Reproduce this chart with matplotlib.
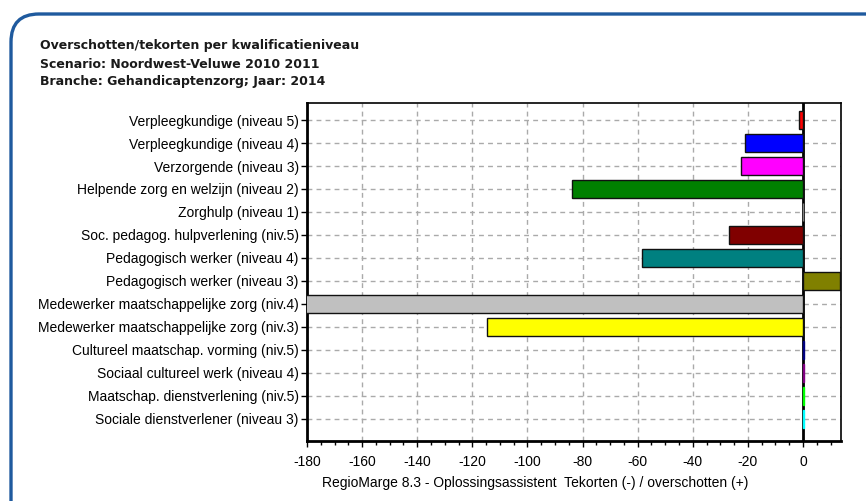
import numpy as np
import matplotlib.pyplot as plt
from matplotlib.patches import FancyBboxPatch
from matplotlib.ticker import MultipleLocator

categories = [
    "Verpleegkundige (niveau 5)",
    "Verpleegkundige (niveau 4)",
    "Verzorgende (niveau 3)",
    "Helpende zorg en welzijn (niveau 2)",
    "Zorghulp (niveau 1)",
    "Soc. pedagog. hulpverlening (niv.5)",
    "Pedagogisch werker (niveau 4)",
    "Pedagogisch werker (niveau 3)",
    "Medewerker maatschappelijke zorg (niv.4)",
    "Medewerker maatschappelijke zorg (niv.3)",
    "Cultureel maatschap. vorming (niv.5)",
    "Sociaal cultureel werk (niveau 4)",
    "Maatschap. dienstverlening (niv.5)",
    "Sociale dienstverlener (niveau 3)",
]
values = [-1.5, -21, -22.5, -84, 0, -27, -58.5, 13.5, -185, -114.7, 0.3, 0.3, 0.3, 0.3]
colors = ["#FF0000", "#0000FF", "#FF00FF", "#008000", "#808080", "#800000", "#008080",
          "#808000", "#C0C0C0", "#FFFF00", "#000080", "#800080", "#00FF00", "#00FFFF"]
xticks = list(range(-180, 1, 20))

plt.rcParams['font.family'] = ['Liberation Sans', 'DejaVu Sans']

fig = plt.figure(figsize=(8.66, 5.01), dpi=100)
fig.set_facecolor("white")

# rounded blue frame, running off the right and bottom edges
frame = FancyBboxPatch((11, -100), 1000, 501 - 14 + 100,
                       boxstyle="round,pad=0,rounding_size=28",
                       transform=None, facecolor="none",
                       edgecolor="#1F5A9E", linewidth=2.4, clip_on=False)
fig.patches.append(frame)

# titles
title_lines = ["Overschotten/tekorten per kwalificatieniveau",
               "Scenario: Noordwest-Veluwe 2010 2011",
               "Branche: Gehandicaptenzorg; Jaar: 2014"]
for line, ypx in zip(title_lines, [46, 64, 82]):
    fig.text(40 / 866, 1 - ypx / 501, line, fontsize=9, fontweight="bold",
             family=["DejaVu Sans"], va="center", color="#1a1a1a")

ax = fig.add_axes([307 / 866, 1 - 441 / 501, (841 - 307) / 866, (441 - 103) / 501])
ypos = np.arange(len(categories))
ax.axvline(0, color="black", linewidth=2, zorder=2)
# very small bars only show as a coloured strip on the zero line
edges = [c if abs(v) < 1 else "#111111" for v, c in zip(values, colors)]
ax.barh(ypos, values, height=0.78, color=colors, edgecolor=edges, linewidth=1.0, zorder=3)

ax.set_xlim(-180, 13.8)
ax.set_ylim(len(categories) - 1 + 0.96, -0.74)
ax.set_yticks(ypos)
ax.set_yticklabels(categories, fontsize=10)
ax.set_xticks(xticks)
ax.set_xticklabels([str(t) for t in xticks], fontsize=10)
ax.xaxis.set_minor_locator(MultipleLocator(5))
ax.tick_params(axis="x", which="major", length=4, width=1, pad=6)
ax.tick_params(axis="x", which="minor", length=3, width=1)
ax.tick_params(axis="y", length=4, width=1, pad=2)
ax.grid(True, linestyle=(0, (3.5, 3)), color="#AAAAAA", linewidth=1, zorder=0)
for s in ax.spines.values():
    s.set_linewidth(1.2)
ax.spines["left"].set_linewidth(2)
ax.spines["bottom"].set_linewidth(2)
ax.set_axisbelow(True)

fig.text(322 / 866, 1 - 483 / 501,
         "RegioMarge 8.3 - Oplossingsassistent  Tekorten (-) / overschotten (+)",
         fontsize=10, va="center")

fig.savefig("out.png", dpi=100, facecolor="white")
